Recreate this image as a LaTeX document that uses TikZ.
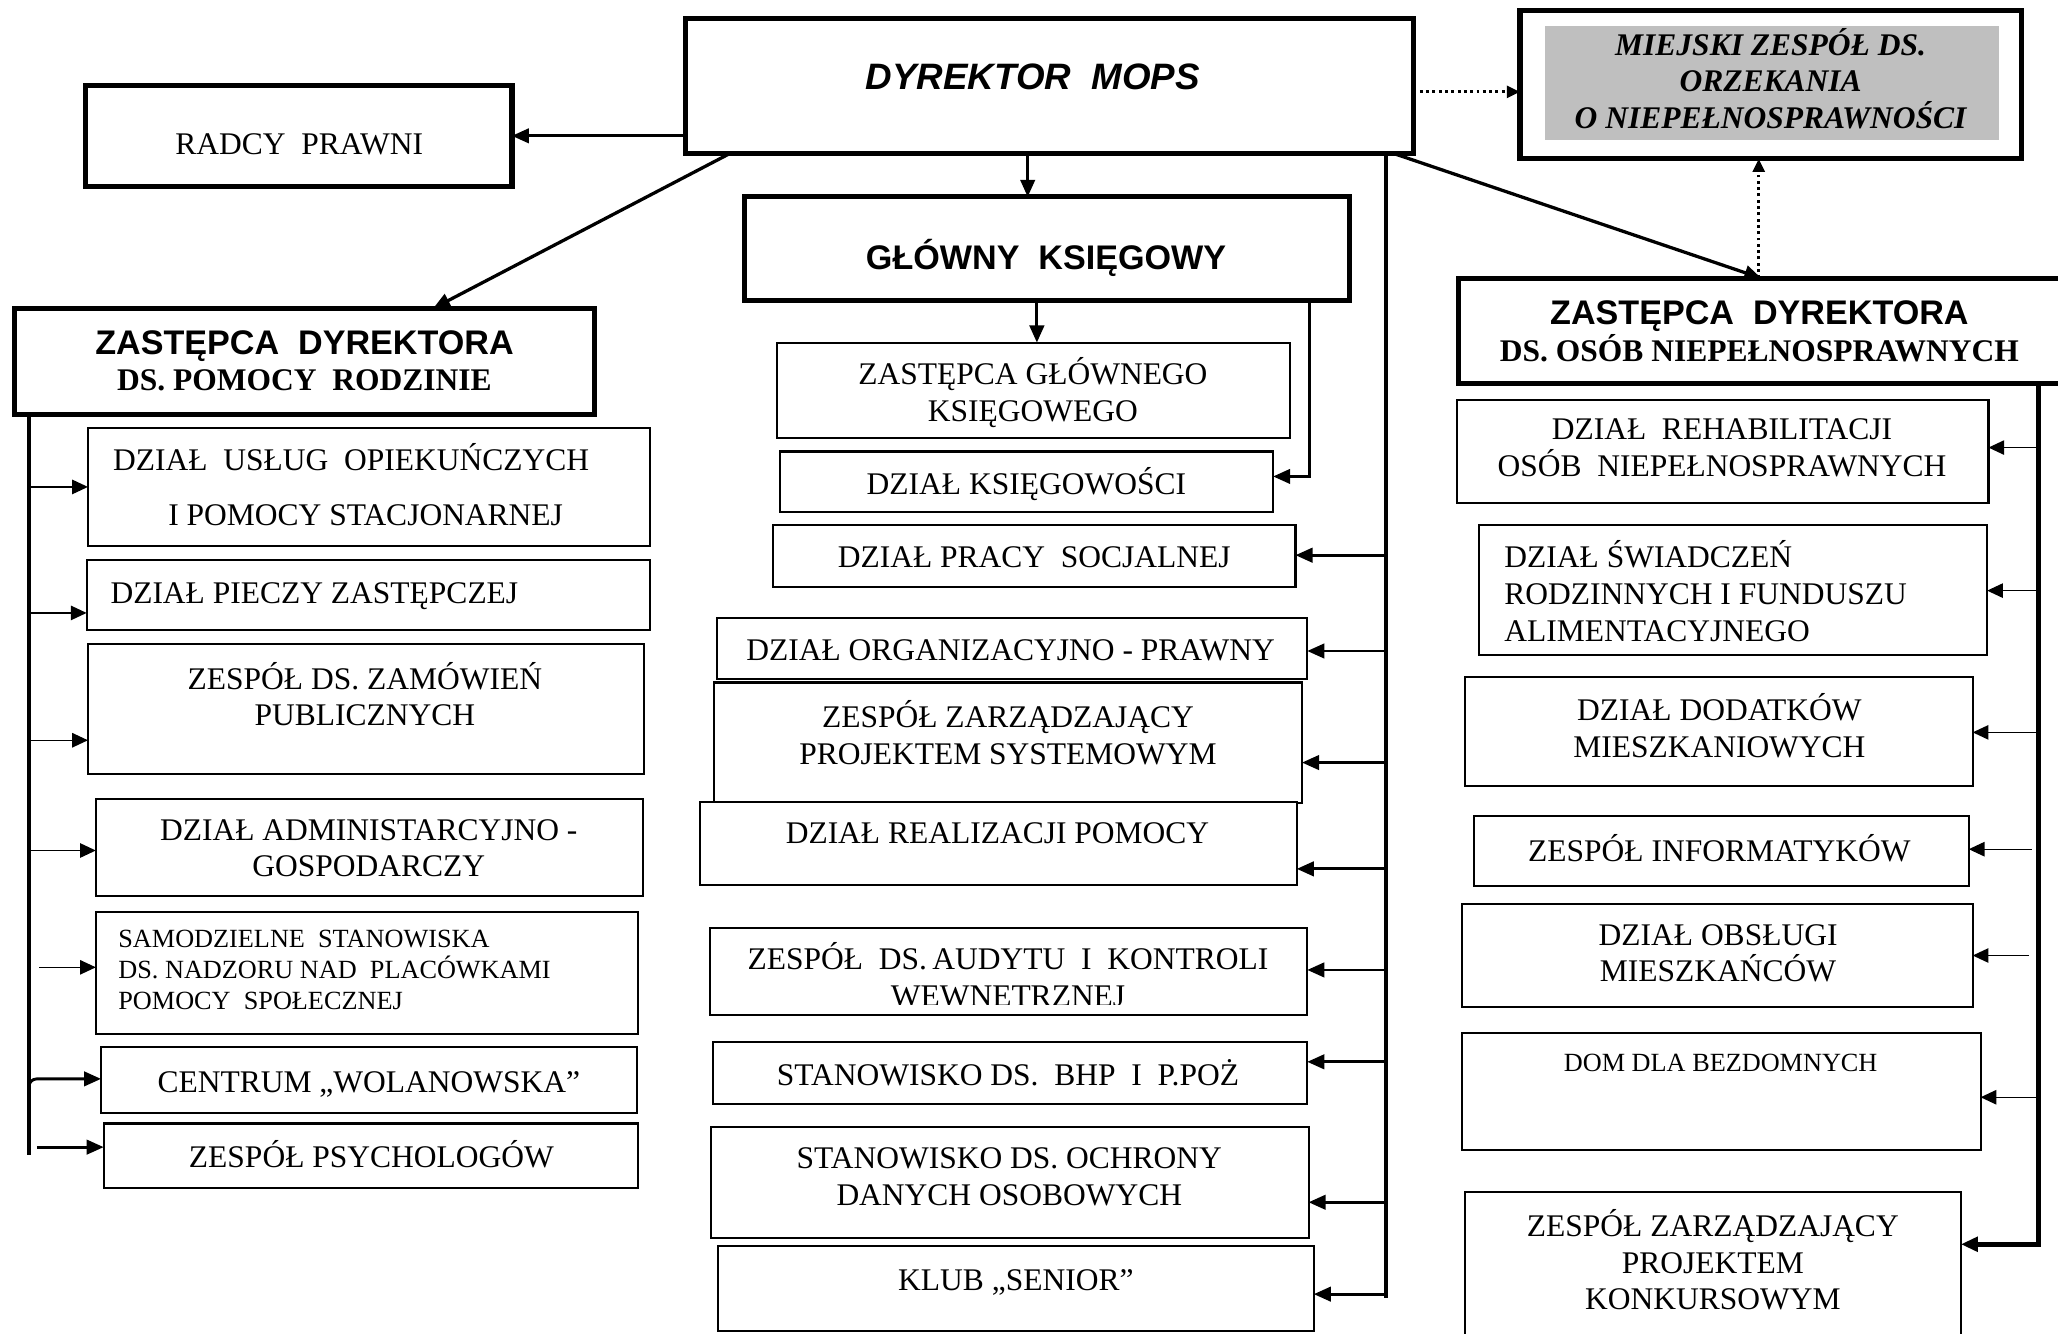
\documentclass[tikz,border=0pt]{standalone}
\usepackage{fontspec}
\setmainfont{Liberation Serif}
\newfontfamily\sansf{Liberation Sans}
\usetikzlibrary{arrows.meta}
\newcommand\mkbox[6]{\node[#2, minimum width={(#5)-(#3)}, minimum height={(#6)-(#4)}] (#1) at ({((#3)+(#5))/2},{((#4)+(#6))/2}) {};}
\begin{document}
\begin{tikzpicture}[x=1pt,y=-1pt,
  thickbox/.style={draw, line width=4pt, inner sep=0pt, outer sep=0pt, fill=white},
  thinbox/.style={draw, line width=1.6pt, inner sep=0pt, outer sep=0pt, fill=white},
  graybox/.style={fill=black!25, inner sep=0pt, outer sep=0pt},
  tx/.style={font=\fontsize{24}{28}\selectfont, align=center, inner sep=0pt,
    execute at begin node=\strut, execute at end node=\strut, yshift=-2.4pt},
  txs/.style={tx, font=\fontsize{20}{23.5}\selectfont, yshift=0.5pt},
  conn/.style={line width=2.2pt, -{Triangle[length=13pt,width=11pt]}},
  trunk/.style={line width=3.2pt},
  thinarr/.style={line width=1pt, -{Triangle[length=12pt,width=11pt]}},
  dotarr/.style={line width=2.4pt, dash pattern=on 2.2pt off 2.6pt, -{Triangle[length=10pt,width=9pt]}}]
\useasboundingbox (0,0) rectangle (1568,1016);
\clip (0,0) rectangle (1568,1016);
\fill[white] (0,0) rectangle (1568,1016);
% ---------- boxes
\mkbox{dyr}{thickbox}{522}{14}{1077}{117}
\mkbox{mz}{thickbox}{1158}{8}{1540}{121}
\mkbox{mzg}{graybox}{1177}{20}{1523}{107}
\mkbox{radcy}{thickbox}{65}{65}{390}{142}
\mkbox{gk}{thickbox}{567}{150}{1028}{229}
\mkbox{zl}{thickbox}{11}{235}{453}{316}
\mkbox{zr}{thickbox}{1111}{212}{1600}{292}
\mkbox{zg}{thinbox}{592}{261}{983}{334}
\mkbox{ks}{thinbox}{594}{344}{970}{390}
\mkbox{pracy}{thinbox}{589}{400}{987}{447}
\mkbox{org}{thinbox}{546}{471}{996}{517}
\mkbox{syst}{thinbox}{544}{520}{992}{612}
\mkbox{real}{thinbox}{533}{611}{988}{674}
\mkbox{aud}{thinbox}{541}{707}{996}{773}
\mkbox{bhp}{thinbox}{543}{794}{996}{841}
\mkbox{och}{thinbox}{542}{859}{997}{943}
\mkbox{klub}{thinbox}{547}{949}{1001}{1014}
\mkbox{usl}{thinbox}{67}{326}{495}{416}
\mkbox{piecz}{thinbox}{66}{427}{495}{480}
\mkbox{zam}{thinbox}{67}{491}{491}{590}
\mkbox{adm}{thinbox}{73}{609}{490}{683}
\mkbox{sam}{thinbox}{73}{695}{486}{788}
\mkbox{cen}{thinbox}{77}{798}{485}{848}
\mkbox{psy}{thinbox}{79}{856}{486}{905}
\mkbox{reh}{thinbox}{1110}{305}{1515}{383}
\mkbox{swi}{thinbox}{1127}{400}{1514}{499}
\mkbox{dod}{thinbox}{1116}{516}{1503}{599}
\mkbox{inf}{thinbox}{1123}{622}{1500}{675}
\mkbox{obs}{thinbox}{1114}{689}{1503}{767}
\mkbox{dom}{thinbox}{1114}{787}{1509}{876}
\mkbox{kon}{thinbox}{1116}{908}{1494}{1040}
% ---------- texts
\node[tx, font=\sansf\bfseries\itshape\fontsize{28}{32}\selectfont, yshift=-1.2pt] (t-dyr) at (787,58) {DYREKTOR\ \ MOPS};
\node[tx, font=\bfseries\itshape\fontsize{24}{27.5}\selectfont] (t-mz) at (1349,61.5) {MIEJSKI ZESPÓŁ DS.\\ORZEKANIA\\O NIEPEŁNOSPRAWNOŚCI};
\node[tx] (t-radcy) at (228,110) {RADCY\ \ PRAWNI};
\node[tx, font=\sansf\bfseries\fontsize{26}{28}\selectfont, yshift=-1.3pt] (t-gk) at (797,194) {GŁÓWNY\ \ KSIĘGOWY};
\node[tx, yshift=-0.6pt] (t-zl) at (232,276) {\sansf\bfseries\fontsize{26}{28}\selectfont ZASTĘPCA\ \ DYREKTORA\\\rmfamily\bfseries\fontsize{24}{28}\selectfont DS. POMOCY\ \ RODZINIE};
\node[tx, yshift=-0.6pt] (t-zr) at (1340.5,253.5) {\sansf\bfseries\fontsize{26}{28}\selectfont ZASTĘPCA\ \ DYREKTORA\\\rmfamily\bfseries\fontsize{24}{28}\selectfont DS. OSÓB NIEPEŁNOSPRAWNYCH};
\node[tx] (t-zg) at (787,298.5) {ZASTĘPCA GŁÓWNEGO\\KSIĘGOWEGO};
\node[tx] (t-ks) at (782,368) {DZIAŁ KSIĘGOWOŚCI};
\node[tx] (t-pracy) at (788,424) {DZIAŁ PRACY\ \ SOCJALNEJ};
\node[tx] (t-org) at (770,495) {DZIAŁ ORGANIZACYJNO - PRAWNY};
\node[tx] (t-syst) at (768,560) {ZESPÓŁ ZARZĄDZAJĄCY\\PROJEKTEM SYSTEMOWYM};
\node[tx] (t-real) at (760,635) {DZIAŁ REALIZACJI POMOCY};
\begin{scope}
\clip (541,700) rectangle (996,765);
\node[tx] (t-aud) at (768,744) {ZESPÓŁ\ \ DS.\,AUDYTU\ \ I\ \ KONTROLI\\WEWNETRZNEJ};
\end{scope}
\node[tx] (t-bhp) at (768,819) {STANOWISKO DS.\ \ BHP\ \ I\ \ P.POŻ};
\node[tx] (t-och) at (769,898) {STANOWISKO DS. OCHRONY\\DANYCH OSOBOWYCH};
\node[tx] (t-klub) at (774,975) {KLUB „SENIOR”};
\node[tx, anchor=west, align=left] (t-usl) at (86,371) {DZIAŁ\ \ USŁUG\ \ OPIEKUŃCZYCH\\[14pt]\hspace*{42pt}I POMOCY STACJONARNEJ};
\node[tx, anchor=west, align=left] (t-piecz) at (84,452) {DZIAŁ PIECZY ZASTĘPCZEJ};
\node[tx] (t-zam) at (278,530.5) {ZESPÓŁ DS. ZAMÓWIEŃ\\PUBLICZNYCH};
\node[tx] (t-adm) at (281,648) {DZIAŁ ADMINISTARCYJNO -\\GOSPODARCZY};
\node[txs, anchor=west, align=left] (t-sam) at (90,740.5) {SAMODZIELNE\ \ STANOWISKA\\DS. NADZORU NAD\ \ PLACÓWKAMI\\POMOCY\ \ SPOŁECZNEJ};
\node[tx] (t-cen) at (281,824) {CENTRUM „WOLANOWSKA”};
\node[tx] (t-psy) at (283,881) {ZESPÓŁ PSYCHOLOGÓW};
\node[tx] (t-reh) at (1312,343) {DZIAŁ\ \ REHABILITACJI\\OSÓB\ \ NIEPEŁNOSPRAWNYCH};
\node[tx, anchor=west, align=left] (t-swi) at (1146,452) {DZIAŁ ŚWIADCZEŃ\\RODZINNYCH I FUNDUSZU\\ALIMENTACYJNEGO};
\node[tx] (t-dod) at (1310,554.5) {DZIAŁ DODATKÓW\\MIESZKANIOWYCH};
\node[tx] (t-inf) at (1310,648) {ZESPÓŁ INFORMATYKÓW};
\node[tx] (t-obs) at (1309,728) {DZIAŁ OBSŁUGI\\MIESZKAŃCÓW};
\node[txs] (t-dom) at (1311,810) {DOM DLA BEZDOMNYCH};
\node[tx] (t-kon) at (1305,961.5) {ZESPÓŁ ZARZĄDZAJĄCY\\PROJEKTEM\\KONKURSOWYM};
% ---------- top connectors
\draw[conn] (dyr.west |- radcy.east) -- (radcy.east);
\draw[dotarr] (dyr.east |- 0,70) -- (mz.west |- 0,70);
\draw[conn] (dyr.south -| 783,0) -- (gk.north -| 783,0);
\draw[conn, line width=2.5pt] (dyr.south -| 556,0) -- (zl.north -| 330,0);
\draw[conn, line width=2.5pt] (dyr.south -| 1062,0) -- (zr.north -| 1342,0);
\draw[dotarr] (zr.north -| 1340,0) -- (mz.south -| 1340,0);
% ---------- middle column
\coordinate (mt) at (dyr.south -| 1056,0);
\coordinate (mb) at (1056,989);
\draw[trunk] (mt) -- (mb);
\foreach \yy/\nn in {423/pracy,496/org,581/syst,662/real,739/aud,809/bhp,916/och,986/klub}
  \draw[conn] (mt |- 0,\yy) -- (\nn.east |- 0,\yy);
\draw[conn] (gk.south -| 790,0) -- (zg.north -| 790,0);
\draw[conn] (gk.south -| 998,0) |- (ks.east |- 0,363);
% ---------- left column
\coordinate (lt) at (zl.south -| 22,0);
\coordinate (lb) at (22,880);
\draw[trunk, line width=3.5pt] (lt) -- (lb);
\foreach \yy/\nn in {371/usl,467/piecz,564/zam,648/adm}
  \draw[thinarr] (lt |- 0,\yy) -- (\nn.west |- 0,\yy);
\coordinate (ls) at (30,737);
\draw[thinarr] (ls) -- (sam.west |- ls);
\coordinate (lc) at (22,834);
\draw[conn, rounded corners=6pt] (lc) |- (cen.west |- 0,822);
\coordinate (lp) at (28,874);
\draw[conn] (lp) -- (psy.west |- lp);
% ---------- right column
\coordinate (rt) at (zr.south -| 1553,0);
\draw[trunk, line width=3.5pt, -{Triangle[length=13pt,width=11pt]}] (rt) |- (kon.east |- 0,948);
\foreach \yy/\nn in {341/reh,450/swi,558/dod,836/dom}
  \draw[thinarr] (rt |- 0,\yy) -- (\nn.east |- 0,\yy);
\coordinate (ri) at (1548,647);
\draw[thinarr] (ri) -- (inf.east |- ri);
\coordinate (ro) at (1546,728);
\draw[thinarr] (ro) -- (obs.east |- ro);
\end{tikzpicture}
\end{document}
